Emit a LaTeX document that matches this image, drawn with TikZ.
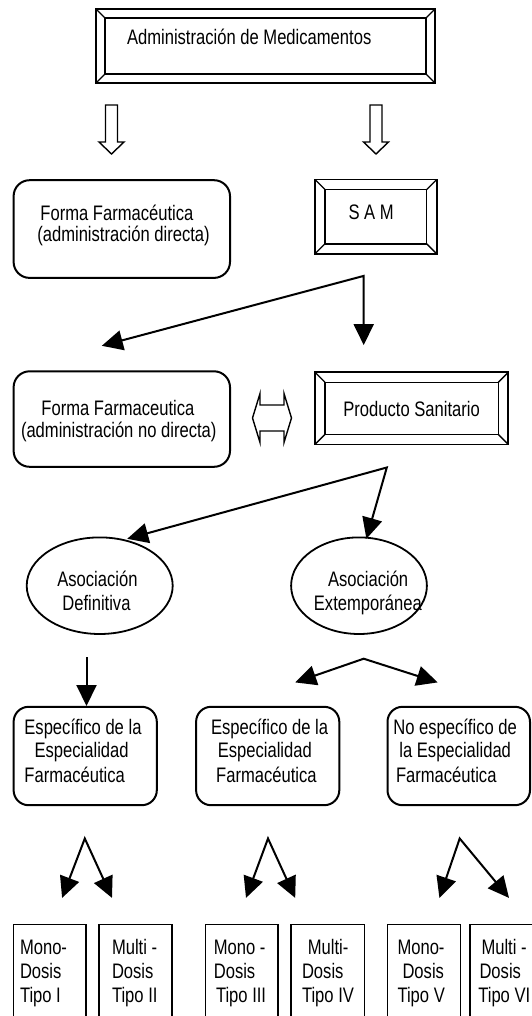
\documentclass[tikz,border=0pt]{standalone}
\usepackage{fontspec}
\setmainfont{Liberation Sans}[FakeStretch=0.79]
\usetikzlibrary{arrows.meta,shapes.geometric}
\tikzset{
  tx/.style={inner sep=0pt, outer sep=0pt, anchor=base west, font=\fontsize{21}{24}\selectfont},
  bev/.style={draw, line width=1.8pt, inner sep=0pt, outer sep=0pt},
  rbox/.style={draw, line width=2pt, rounded corners=16pt, inner sep=0pt, outer sep=0pt},
  ell/.style={draw, ellipse, line width=1.8pt, inner sep=0pt, outer sep=0pt},
  sbox/.style={draw, line width=1.5pt, inner sep=0pt, outer sep=0pt},
  hollow/.style={draw, line width=1.4pt, line join=miter},
  tip/.tip={Triangle[length=21pt,width=20pt]},
  conn/.style={line width=2pt, tip-tip},
  conn1/.style={line width=2pt, -tip},
}
\newcommand\bevelin[2]{%
  \draw[line width=1.5pt] ([shift={(#2pt,-#2pt)}]#1.north west) rectangle ([shift={(-#2pt,#2pt)}]#1.south east);
  \draw[line width=1.3pt] (#1.north west) -- ++(#2pt,-#2pt);
  \draw[line width=1.3pt] (#1.north east) -- ++(-#2pt,-#2pt);
  \draw[line width=1.3pt] (#1.south east) -- ++(-#2pt,#2pt);
  \draw[line width=1.3pt] (#1.south west) -- ++(#2pt,#2pt);
}
\newcommand\hollowdown[1]{%
  \draw[hollow] (#1-6,105) -- (#1-6,142) -- (#1-12.5,142) -- (#1,154) -- (#1+12.5,142) -- (#1+6,142) -- (#1+6,105) -- cycle;}
\begin{document}
\begin{tikzpicture}[x=1pt,y=-1pt]
\useasboundingbox (0,0) rectangle (532,1016);
\clip (0,0) rectangle (532,1016);

% ---------- top box
\node[bev, minimum width=339pt, minimum height=74pt] (top) at (265.5,46) {};
\bevelin{top}{9}
\node[tx] (ttop) at (127,45) {Administración de Medicamentos};

% hollow arrows
\hollowdown{111.5}
\hollowdown{376}

% ---------- second row
\node[rbox, minimum width=216.4pt, minimum height=97.7pt] (ff1) at (121.8,229.05) {};
\node[tx] (tff1a) at (40.4,220.2) {Forma Farmacéutica};
\node[tx] (tff1b) at (37.3,241.9) {(administración directa)};

\node[bev, minimum width=121.7pt, minimum height=74.3pt] (sam) at (375.85,216.65) {};
\bevelin{sam}{10}
\node[tx] (tsam) at (348.5,219.2) {S A M};

% arrows from SAM
\coordinate (p1) at (363.7,275.9);
\coordinate (a1) at (101.8,345.8);
\coordinate (a2) at (363.7,345.1);
\draw[conn] (a1) -- (p1) -- (a2);

% ---------- third row
\node[rbox, minimum width=216.4pt, minimum height=95.5pt] (ff2) at (121.8,419.05) {};
\node[tx] (tff2a) at (41.4,415.4) {Forma Farmaceutica};
\node[tx] (tff2b) at (21,437) {(administración no directa)};

\draw[hollow] (252.5,418) -- (260,393.5) -- (260,405) -- (284,405) -- (284,393.5) -- (291.5,418)
  -- (284,442.5) -- (284,431) -- (260,431) -- (260,442.5) -- cycle;

\node[bev, minimum width=193.3pt, minimum height=72.1pt] (prod) at (411.65,408.35) {};
\bevelin{prod}{10}
\node[tx] (tprod) at (343.4,416.4) {Producto Sanitario};

% arrows from Producto
\coordinate (p2) at (386.8,467.5);
\coordinate (a3) at (127.2,538.8);
\coordinate (a4) at (366.4,538.8);
\draw[conn] (a3) -- (p2) -- (a4);

% ---------- ellipses
\node[ell, minimum width=146pt, minimum height=96.6pt] (def) at (99.7,585.7) {};
\node[tx] (tdefa) at (57.3,586) {Asociación};
\node[tx] (tdefb) at (62.3,610) {Definitiva};

\node[ell, minimum width=135.8pt, minimum height=96.6pt] (ext) at (359,585.7) {};
\node[tx] (texta) at (328,586) {Asociación};
\node[tx] (textb) at (313.9,610) {Extemporánea};

% arrows below ellipses
\coordinate (p3) at (86.5,657);
\coordinate (a5) at (86.5,706);
\draw[conn1] (p3) -- (a5);
\coordinate (p4) at (363.7,658.7);
\coordinate (a6) at (295.2,682.4);
\coordinate (a7) at (437.7,682.4);
\draw[conn] (a6) -- (p4) -- (a7);

% ---------- fourth row
\node[rbox, rounded corners=15pt, minimum width=143.2pt, minimum height=98.4pt] (esp1) at (85.2,756) {};
\node[tx] (tesp1a) at (24.4,734.3) {Específico de la};
\node[tx] (tesp1b) at (34.6,757.7) {Especialidad};
\node[tx] (tesp1c) at (24.4,782.5) {Farmacéutica};

\node[rbox, rounded corners=15pt, minimum width=143.2pt, minimum height=98.4pt] (esp2) at (267.7,756) {};
\node[tx] (tesp2a) at (211,734.3) {Específico de la};
\node[tx] (tesp2b) at (217.8,757.7) {Especialidad};
\node[tx] (tesp2c) at (216.2,782.5) {Farmacéutica};

\node[rbox, rounded corners=15pt, minimum width=142.5pt, minimum height=98.4pt] (nesp) at (458.75,756) {};
\node[tx] (tnespa) at (393.3,734.3) {No específico de};
\node[tx] (tnespb) at (399.4,757.7) {la Especialidad};
\node[tx] (tnespc) at (396,782.5) {Farmacéutica};

% arrows to bottom row
\coordinate (q1) at (84.8,838.5);
\coordinate (c1) at (62.1,897.9);
\coordinate (c2) at (112,897.9);
\draw[conn] (c1) -- (q1) -- (c2);
\coordinate (q2) at (268,838.5);
\coordinate (c3) at (246,897.9);
\coordinate (c4) at (295.2,897.9);
\draw[conn] (c3) -- (q2) -- (c4);
\coordinate (q3) at (459.7,838.5);
\coordinate (c5) at (439.4,897.9);
\coordinate (c6) at (509,897.9);
\draw[conn] (c5) -- (q3) -- (c6);

% ---------- bottom row
\node[sbox, minimum width=72.2pt, minimum height=130pt] (d1) at (49.7,989.5) {};
\node[sbox, minimum width=73pt, minimum height=130pt] (d2) at (135.5,989.5) {};
\node[sbox, minimum width=72.9pt, minimum height=130pt] (d3) at (241.75,989.5) {};
\node[sbox, minimum width=73.6pt, minimum height=130pt] (d4) at (327.9,989.5) {};
\node[sbox, minimum width=72.9pt, minimum height=130pt] (d5) at (423.95,989.5) {};
\node[sbox, minimum width=73pt, minimum height=130pt] (d6) at (506.5,989.5) {};

\node[tx] (td1a) at (20,954) {Mono-};
\node[tx] (td1b) at (20,978) {Dosis};
\node[tx] (td1c) at (20,1002) {Tipo I};

\node[tx] (td2a) at (112,954) {Multi -};
\node[tx] (td2b) at (112,978) {Dosis};
\node[tx] (td2c) at (112,1002) {Tipo II};

\node[tx] (td3a) at (213.8,954) {Mono -};
\node[tx] (td3b) at (213.8,978) {Dosis};
\node[tx] (td3c) at (216,1002) {Tipo III};

\node[tx] (td4a) at (307.8,954) {Multi-};
\node[tx] (td4b) at (302,978) {Dosis};
\node[tx] (td4c) at (302,1002) {Tipo IV};

\node[tx] (td5a) at (397.5,954) {Mono-};
\node[tx] (td5b) at (402.5,978) {Dosis};
\node[tx] (td5c) at (397.5,1002) {Tipo V};

\node[tx] (td6a) at (481.5,954) {Multi -};
\node[tx] (td6b) at (479.5,978) {Dosis};
\node[tx] (td6c) at (478.3,1002) {Tipo VI};
\end{tikzpicture}
\end{document}
